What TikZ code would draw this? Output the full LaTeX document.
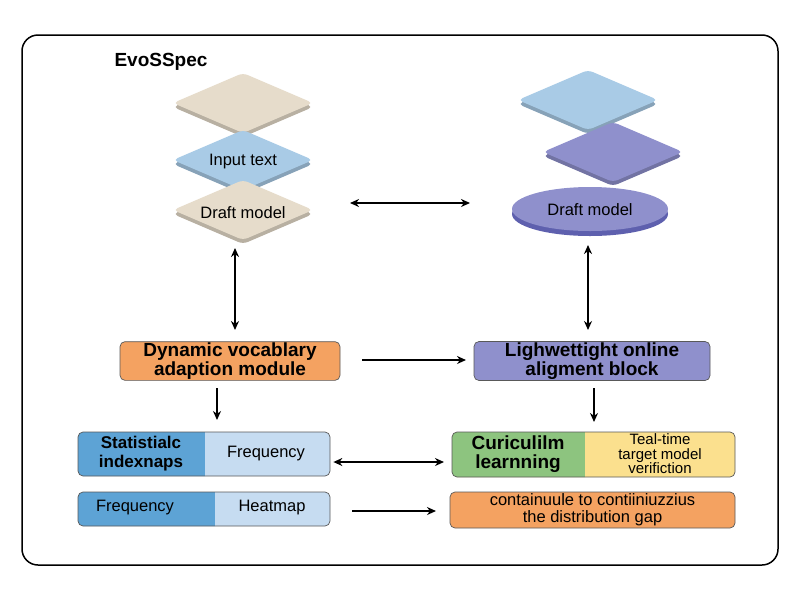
\documentclass[tikz,border=0pt]{standalone}
\usepackage{fontspec}
\setmainfont{Liberation Sans}
\usetikzlibrary{shapes.geometric,arrows.meta}
\definecolor{beige}{HTML}{E6DCCB}\definecolor{beiged}{HTML}{C9BBA5}
\definecolor{lblue}{HTML}{A9CBE6}\definecolor{lblued}{HTML}{6FA3CF}
\definecolor{purp}{HTML}{8F90CC}\definecolor{purpd}{HTML}{5E60AE}
\definecolor{orng}{HTML}{F4A261}\definecolor{bluek}{HTML}{5DA3D5}
\definecolor{bluel}{HTML}{C6DCF1}\definecolor{grn}{HTML}{8DC47F}\definecolor{ylw}{HTML}{FBE08E}
\begin{document}
\begin{tikzpicture}[x=1pt,y=-1pt,
  arr/.style={-{Stealth[length=9pt,width=8pt]},line width=1.6pt},
  darr/.style={{Stealth[length=9pt,width=8pt]}-{Stealth[length=9pt,width=8pt]},line width=1.6pt},
  box/.style={draw=gray!70!black,rounded corners=5pt,line width=0.7pt,inner sep=1pt},
  bt/.style={font=\bfseries\fontsize{19}{19}\selectfont,align=center,inner sep=1pt},
  st/.style={font=\fontsize{16.5}{17}\selectfont,align=center,inner sep=1pt}]
\useasboundingbox (0,0) rectangle (800,600);
\draw[rounded corners=16pt,line width=1.5pt] (22,35) rectangle (778,565);
\node[font=\bfseries\fontsize{19}{19}\selectfont] (title) at (161,62) {EvoSSpec};
\tikzset{slab/.pic={\fill[#1!80!black,rounded corners=5pt] (-70,4)--(0,-26)--(70,4)--(0,34)--cycle;
 \fill[#1,rounded corners=5pt] (-70,0)--(0,-30)--(70,0)--(0,30)--cycle;}}
\pic at (243,103) {slab=beige};
\pic at (243,160) {slab=lblue};
\pic at (243,210) {slab=beige};
\node[st] (inp) at (243,162) {Input text};
\node[st] (dl) at (243,213) {Draft model};
\pic at (588,100) {slab=lblue};
\pic at (613,152) {slab=purp};
\fill[purpd] (590,214) ellipse (78 and 22);
\fill[purp] (590,209) ellipse (78 and 22);
\node[st,minimum width=150,minimum height=44] (dr) at (590,210) {Draft model};
\coordinate (ha) at (350,203); \coordinate (hb) at (470,203);
\draw[darr] (ha)--(hb);
\node[box,fill=orng,bt,minimum width=220,minimum height=38] (dyn) at (230,361) {Dynamic vocablary\\adaption module};
\node[box,fill=purp,bt,minimum width=236,minimum height=39] (lig) at (592,361) {Lighwettight online\\aligment block};
\coordinate (l1) at (235,248); \coordinate (r1) at (588,245);
\draw[darr] (l1)--(235,330);
\draw[darr] (r1)--(588,330);
\draw[arr] (362,360)--(466,360);
\fill[bluel,rounded corners=5pt] (78,432) rectangle (330,476);
\fill[bluek,rounded corners=5pt] (78,432) rectangle (210,476);
\fill[bluek] (195,432) rectangle (205,476);
\fill[bluel] (205,432) rectangle (215,476);
\node[box,minimum width=252,minimum height=44] (stat) at (204,454) {};
\node[bt,font=\bfseries\fontsize{17}{19}\selectfont] at (141,454) {Statistialc\\indexnaps};
\node[st] at (266,454) {Frequency};
\fill[ylw,rounded corners=5pt] (452,432) rectangle (735,477);
\fill[grn,rounded corners=5pt] (452,432) rectangle (590,477);
\fill[ylw] (585,432) rectangle (595,477);
\node[box,minimum width=283,minimum height=45] (cur) at (593.5,454.5) {};
\node[bt] at (518,454) {Curiculilm\\learnning};
\node[st,font=\fontsize{15}{14.5}\selectfont] at (660,454) {Teal-time\\target model\\verifiction};
\draw[arr] (217,388)--(217,420);
\draw[arr] (594,388)--(594,422);
\draw[darr] (stat.east)++(3,8)--(444,462);
\fill[bluel,rounded corners=5pt] (78,492) rectangle (330,526);
\fill[bluek,rounded corners=5pt] (78,492) rectangle (220,526);
\fill[bluel] (215,492) rectangle (225,526);
\node[box,minimum width=252,minimum height=34] (fh) at (204,509) {};
\node[st] at (135,508) {Frequency};
\node[st] at (272,508) {Heatmap};
\node[box,fill=orng,st,font=\fontsize{16.5}{17}\selectfont,minimum width=285,minimum height=36] (gap) at (592.5,510) {containuule to contiiniuzzius\\the distribution gap};
\draw[arr] (352,511)--(436,511);
\end{tikzpicture}
\end{document}
